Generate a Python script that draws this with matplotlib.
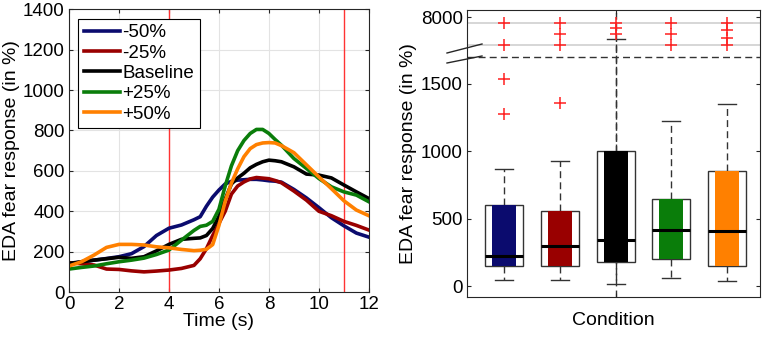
import numpy as np
import matplotlib
matplotlib.use("Agg")
import matplotlib.pyplot as plt
from matplotlib.lines import Line2D

plt.rcParams['font.family'] = ['Liberation Sans', 'DejaVu Sans']

# ---- left panel: mean EDA fear response over time ----
t = [0, 0.5, 1, 1.5, 2, 2.5, 3, 3.5, 4, 4.5, 5, 5.25, 5.5, 5.75, 6, 6.25, 6.5, 6.75,
     7, 7.25, 7.5, 7.75, 8, 8.25, 8.5, 9, 9.5, 10, 10.5, 11, 11.5, 12]
neg50 = [138, 150, 158, 166, 175, 190, 225, 280, 316, 332, 358, 373, 425, 470, 505, 535,
         548, 554, 556, 558, 558, 555, 551, 549, 544, 508, 466, 418, 368, 328, 292, 272]
neg25 = [145, 140, 134, 114, 112, 105, 100, 104, 109, 117, 132, 165, 215, 280, 340, 400,
         485, 525, 545, 560, 567, 564, 561, 552, 541, 500, 455, 400, 378, 350, 330, 307]
baseline = [142, 150, 158, 165, 172, 167, 175, 204, 236, 261, 266, 268, 280, 315, 375, 460,
            535, 565, 588, 615, 632, 645, 653, 650, 645, 620, 584, 579, 565, 530, 496, 463]
pos25 = [114, 122, 129, 140, 150, 158, 168, 186, 208, 257, 305, 325, 331, 350, 410, 525,
         625, 700, 750, 785, 805, 805, 785, 755, 727, 661, 612, 562, 521, 496, 480, 447]
pos50 = [129, 150, 183, 221, 236, 236, 233, 224, 219, 211, 205, 207, 212, 235, 330, 450,
         540, 610, 670, 710, 730, 738, 740, 738, 725, 690, 630, 570, 512, 452, 406, 378]
labels = ['-50%', '-25%', 'Baseline', '+25%', '+50%']
colors = ['#0b0b6e', '#990000', '#000000', '#0a7d0a', '#ff8000']
stim_times = [4, 11]

# ---- right panel: boxplot stats per condition ----
q1 = [148, 148, 180, 205, 148]
med = [222, 299, 346, 415, 407]
q3 = [600, 556, 1000, 649, 852]
whislo = [44, 44, 15, 64, 40]
whishi = [867, 926, 4640, 1225, 1348]
outliers = [[1533, 1274, 3800, 7200],
            [1353, 3800, 5400, 7200],
            [5450, 6370, 7200],
            [3800, 5400, 7200],
            [3800, 4900, 6060, 7200]]
break_lo, break_hi, top_val = 1700, 2000, 8000


def to_axis(v):
    # broken y axis: linear below 1700, compressed segment 2000..8000 above
    v = np.asarray(v, dtype=float)
    upper = 1699 + (v - break_hi) / (top_val - break_hi) * 291
    return np.where(v <= break_lo, v, upper)


fig = plt.figure(figsize=(7.65, 3.42), dpi=100)
edge = '#262626'
fs_tick, fs_lab = 13.5, 14

ax = fig.add_axes([0.0902, 0.146, 0.392, 0.827])
for y, lab, c in zip([neg50, neg25, baseline, pos25, pos50], labels, colors):
    ax.plot(t, y, color=c, lw=2.6, label=lab)
for s in stim_times:
    ax.axvline(s, color='#ff3333', lw=1, zorder=1)
ax.set_xlim(0, 12)
ax.set_ylim(0, 1400)
ax.set_xticks(range(0, 13, 2))
ax.set_yticks(range(0, 1401, 200))
ax.grid(color='#e3e3e3', lw=0.8)
ax.set_axisbelow(True)
ax.tick_params(direction='in', top=True, right=True, labelsize=fs_tick, colors=edge,
               length=3, pad=3)
ax.tick_params(labelcolor='black')
for sp in ax.spines.values():
    sp.set_color(edge)
ax.set_xlabel('Time (s)', fontsize=fs_lab, labelpad=0)
ax.set_ylabel('EDA fear response (in %)', fontsize=fs_lab, labelpad=2)
leg = ax.legend(loc='upper left', fontsize=13.5, fancybox=False, framealpha=1,
                edgecolor='black', handlelength=1.9, handletextpad=0.15,
                labelspacing=0.17, borderpad=0.3, borderaxespad=0.5)
leg.get_frame().set_linewidth(0.8)

# right panel
bx = fig.add_axes([0.6105, 0.1316, 0.383, 0.839])
pos = np.arange(1, 6)
bx.set_xlim(0.336, 5.59)
bx.set_ylim(-79, 2044)
wh = dict(color='#333333', lw=1, ls=(0, (5, 3)))
bx.axvline(3, zorder=1, **wh)
bx.axhline(to_axis(7200), color='#d0d0d0', lw=1.2, zorder=1)
bx.axhline(to_axis(3800), color='#d0d0d0', lw=1.2, zorder=1)
bx.axhline(1699, zorder=1, **wh)

stats = []
for i in range(5):
    stats.append(dict(q1=q1[i], med=med[i], q3=q3[i], whislo=whislo[i],
                      whishi=float(to_axis(whishi[i])), fliers=[]))
bx.bxp(stats, positions=pos, widths=0.68, patch_artist=True, showfliers=False,
       boxprops=dict(facecolor='white', edgecolor='#333333', lw=1),
       whiskerprops=wh, capprops=dict(color='#333333', lw=1),
       medianprops=dict(color='black', lw=2.2, zorder=4), capwidths=0.32,
       manage_ticks=False)
bx.bar(pos, np.array(q3) - np.array(q1), bottom=q1, width=0.43, color=colors,
       zorder=3, edgecolor='none')
for p, outs in zip(pos, outliers):
    bx.plot([p] * len(outs), to_axis(outs), '+', color='#ff2020', ms=8, mew=1.1,
            zorder=5)

bx.set_yticks([0, 500, 1000, 1500, 1990])
bx.set_yticklabels(['0', '500', '1000', '1500', '8000'])
bx.set_xticks([3])
bx.set_xticklabels([])
bx.tick_params(direction='in', top=True, right=True, labelsize=fs_tick, colors=edge,
               length=3, pad=3)
bx.tick_params(labelcolor='black')
for sp in bx.spines.values():
    sp.set_color(edge)
bx.set_xlabel('Condition', fontsize=fs_lab, labelpad=8)
bx.set_ylabel('EDA fear response (in %)', fontsize=fs_lab, labelpad=3)

# break marks on the left edge
for y0, y1 in [(53, 44), (63, 56)]:
    fig.add_artist(Line2D([447 / 765, 482 / 765], [1 - y0 / 342, 1 - y1 / 342],
                          color=edge, lw=1))

fig.savefig('out.png', dpi=100)
